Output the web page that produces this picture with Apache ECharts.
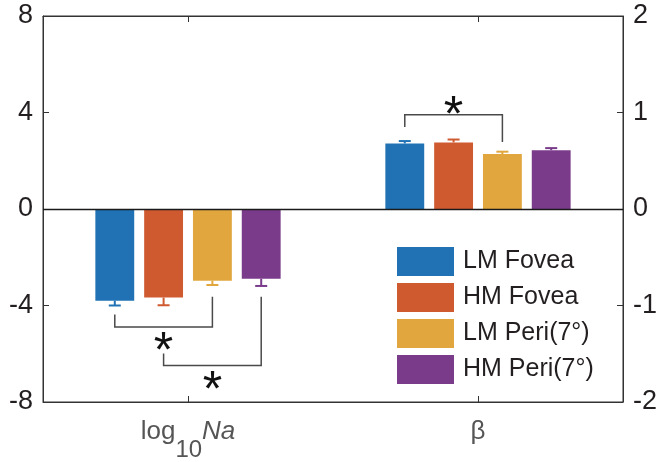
<!DOCTYPE html>
<html>
<head>
<meta charset="utf-8">
<script src="https://cdn.jsdelivr.net/npm/echarts@6/dist/echarts.min.js"></script>
<style>
html, body { margin: 0; padding: 0; background: #fff; }
#chart { width: 660px; height: 462px; }
</style>
</head>
<body>
<div id="chart"></div>
<script>
// data
const categories = ['log10Na', 'β'];
const seriesNames = ['LM Fovea', 'HM Fovea', 'LM Peri(7°)', 'HM Peri(7°)'];
const colors = ['#2072b4', '#cf5a30', '#e1a73e', '#7a3b8a'];

const naMeans = [-3.80, -3.67, -2.97, -2.89];
const naErrors = [0.20, 0.32, 0.18, 0.30];
const betaMeans = [0.68, 0.69, 0.57, 0.61];
const betaErrors = [0.024, 0.03, 0.024, 0.021];

const leftTicks = [-8, -4, 0, 4, 8];
const rightTicks = [-2, -1, 0, 1, 2];

// significance brackets: [fromBar, toBar, fromLegStart, toLegStart, level, starLevel]
const naBrackets = [
    [0, 2, -4.37, -3.64, -4.89, -5.45],
    [1, 3, -5.99, -3.64, -6.49, -7.04]
];
const betaBrackets = [
    [0, 2, 0.85, 0.695, 0.976, 1.09]
];

const BAR_W = 0.134;   // bar width as part of category band
const BAR_GAP = 0.256; // gap as part of bar width
const FONT = '"Liberation Sans", Arial, Helvetica, sans-serif';

function barX(api, cat, bar, val) {
    const p = api.coord([cat, val]);
    const band = api.size([1, 0])[0];
    const slot = band * BAR_W * (1 + BAR_GAP);
    return [p[0] + (bar - 1.5) * slot, p[1]];
}

function renderError(params, api) {
    const cat = api.value(0), mean = api.value(1), err = api.value(2), bar = api.value(3);
    const end = mean + Math.sign(mean) * err;
    const a = barX(api, cat, bar, mean);
    const b = barX(api, cat, bar, end);
    const style = { stroke: colors[bar], lineWidth: 2 };
    return {
        type: 'group',
        children: [
            { type: 'line', shape: { x1: a[0], y1: a[1], x2: b[0], y2: b[1] }, style },
            { type: 'line', shape: { x1: b[0] - 6, y1: b[1], x2: b[0] + 6, y2: b[1] }, style }
        ]
    };
}

function renderBracket(params, api) {
    const cat = api.value(0);
    const f = api.value(1), t = api.value(2);
    const p1 = barX(api, cat, f, api.value(3));
    const p2 = barX(api, cat, f, api.value(5));
    const p3 = barX(api, cat, t, api.value(5));
    const p4 = barX(api, cat, t, api.value(4));
    const sf = barX(api, cat, f, api.value(6));
    const st = barX(api, cat, t, api.value(6));
    return {
        type: 'group',
        children: [
            { type: 'polyline', shape: { points: [p1, p2, p3, p4] },
              style: { stroke: '#4a4a4a', lineWidth: 1.5, fill: null } },
            { type: 'text', style: {
                text: '*', x: (sf[0] + st[0]) / 2, y: sf[1] + 13,
                align: 'center', verticalAlign: 'middle',
                fontSize: 50, fontFamily: FONT, fill: '#111'
            } }
        ]
    };
}

const chart = echarts.init(document.getElementById('chart'));

const series = [];
seriesNames.forEach((name, i) => {
    series.push({
        name, type: 'bar', xAxisIndex: 0, yAxisIndex: 0,
        barWidth: (BAR_W * 100) + '%', barGap: (BAR_GAP * 100) + '%',
        itemStyle: { color: colors[i] },
        data: [naMeans[i], '-'],
        markLine: i === 0 ? {
            silent: true, symbol: 'none', label: { show: false },
            lineStyle: { color: '#1a1a1a', width: 1.3, type: 'solid' },
            data: [{ yAxis: 0 }]
        } : undefined
    });
});
seriesNames.forEach((name, i) => {
    series.push({
        name, type: 'bar', xAxisIndex: 1, yAxisIndex: 1,
        barWidth: (BAR_W * 100) + '%', barGap: (BAR_GAP * 100) + '%',
        itemStyle: { color: colors[i] },
        data: ['-', betaMeans[i]]
    });
});
series.push({
    type: 'custom', xAxisIndex: 0, yAxisIndex: 0, renderItem: renderError,
    encode: { x: 0, y: 1 }, z: 3,
    data: naMeans.map((m, i) => [0, m, naErrors[i], i])
});
series.push({
    type: 'custom', xAxisIndex: 1, yAxisIndex: 1, renderItem: renderError,
    encode: { x: 0, y: 1 }, z: 3,
    data: betaMeans.map((m, i) => [1, m, betaErrors[i], i])
});
series.push({
    type: 'custom', xAxisIndex: 0, yAxisIndex: 0, renderItem: renderBracket,
    encode: { x: 0, y: 5 }, z: 4,
    data: naBrackets.map(b => [0, ...b])
});
series.push({
    type: 'custom', xAxisIndex: 1, yAxisIndex: 1, renderItem: renderBracket,
    encode: { x: 0, y: 5 }, z: 4,
    data: betaBrackets.map(b => [1, ...b])
});

const axisLine = { show: true, onZero: false, lineStyle: { color: '#333', width: 1 } };
const axisTick = { show: true, inside: true, length: 6, lineStyle: { color: '#333' } };

const option = {
    animation: false,
    textStyle: { fontFamily: FONT },
    grid: { left: 43, right: 34, top: 16, bottom: 57, show: true, borderColor: '#333', borderWidth: 1 },
    legend: {
        data: seriesNames, orient: 'vertical', left: 392, top: 242,
        icon: 'rect', itemWidth: 57, itemHeight: 29, itemGap: 7,
        textStyle: { fontSize: 25, color: '#231f20', fontFamily: FONT, padding: [0, 0, 0, 4] }
    },
    xAxis: [{
        type: 'category', data: categories, position: 'bottom',
        axisLine, axisTick: Object.assign({ alignWithLabel: true }, axisTick),
        axisLabel: {
            margin: 0, color: '#555',
            formatter: v => v === 'log10Na' ? '{n|log}{s|10}{i|Na}' : '{n|' + v + '}',
            rich: {
                n: { fontSize: 26, lineHeight: 60, fontFamily: FONT, color: '#555' },
                s: { fontSize: 24, verticalAlign: 'bottom', fontFamily: FONT, color: '#555' },
                i: { fontSize: 26, lineHeight: 60, fontStyle: 'italic', fontFamily: FONT, color: '#555' }
            }
        }
    }, {
        type: 'category', data: categories, position: 'top',
        axisLine, axisTick: Object.assign({ alignWithLabel: true }, axisTick),
        axisLabel: { show: false }
    }],
    yAxis: [{
        type: 'value', position: 'left',
        min: leftTicks[0], max: leftTicks[leftTicks.length - 1], interval: leftTicks[1] - leftTicks[0],
        axisLine, axisTick, splitLine: { show: false },
        axisLabel: { fontSize: 27, color: '#231f20', margin: 10 }
    }, {
        type: 'value', position: 'right',
        min: rightTicks[0], max: rightTicks[rightTicks.length - 1], interval: rightTicks[1] - rightTicks[0],
        axisLine, axisTick, splitLine: { show: false },
        axisLabel: { fontSize: 27, color: '#231f20', margin: 10 }
    }],
    series
};

chart.setOption(option);
</script>
</body>
</html>
